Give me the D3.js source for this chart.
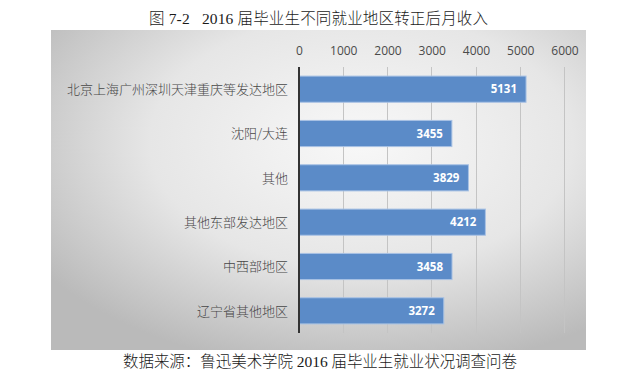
<!DOCTYPE html>
<html><head><meta charset="utf-8">
<script src="https://cdn.jsdelivr.net/npm/d3@7"></script>
<style>body{margin:0;background:#fff}svg{display:block}</style>
</head><body>
<svg id="c" width="621" height="374"></svg>
<script>
const categories = ["北京上海广州深圳天津重庆等发达地区","沈阳/大连","其他","其他东部发达地区","中西部地区","辽宁省其他地区"];
const values = [5131, 3455, 3829, 4212, 3458, 3272];
const ticks = [0,1000,2000,3000,4000,5000,6000];
const titleText = "图 7-2\u00a0\u00a0\u00a02016 届毕业生不同就业地区转正后月收入";
const sourceText = "数据来源：鲁迅美术学院 2016 届毕业生就业状况调查问卷";

const svg = d3.select("#c");
const defs = svg.append("defs");
const rg = defs.append("radialGradient").attr("id","bg")
  .attr("cx","0.58").attr("cy","0.35").attr("r","0.72").attr("fx","0.58").attr("fy","0.35");
rg.append("stop").attr("offset","0").attr("stop-color","#f8f8f8");
rg.append("stop").attr("offset","0.55").attr("stop-color","#e6e6e6");
rg.append("stop").attr("offset","1").attr("stop-color","#bababa");

svg.append("rect").attr("x",51).attr("y",30).attr("width",535).attr("height",320).attr("fill","url(#bg)");

const x = d3.scaleLinear().domain([0,6000]).range([299,564.5]);
const y = d3.scaleBand().domain(categories).range([67,333]).paddingInner(0.41).paddingOuter(0.205);

// gridlines
svg.append("g").selectAll("line").data(ticks.slice(1)).join("line")
  .attr("x1",d=>x(d)).attr("x2",d=>x(d)).attr("y1",67).attr("y2",333)
  .attr("stroke","#c4c4c4").attr("stroke-width",1).attr("shape-rendering","crispEdges");

// top axis labels
const ax = svg.append("g").attr("transform","translate(0,55)")
  .call(d3.axisTop(x).tickValues(ticks).tickSize(0).tickPadding(0).tickFormat(d3.format("d")));
ax.select(".domain").remove();
ax.selectAll("text").attr("fill","#4a4a4a").attr("font-size","12px")
  .attr("font-family","'Open Sans','Noto Sans',sans-serif");

// bars
svg.append("g").selectAll("rect").data(values).join("rect")
  .attr("x",x(0)).attr("y",(d,i)=>y(categories[i]))
  .attr("width",d=>x(d)-x(0)).attr("height",y.bandwidth())
  .attr("fill","#5b8bc8").attr("stroke","#a9c2e4").attr("stroke-width",1);

// value labels
svg.append("g").selectAll("text").data(values).join("text")
  .attr("x",d=>x(d)-9).attr("y",(d,i)=>y(categories[i])+y.bandwidth()/2)
  .attr("dy","0.36em").attr("text-anchor","end").attr("fill","#fff")
  .attr("font-size","11.5px").attr("font-weight","bold")
  .attr("font-family","'Open Sans','Noto Sans',sans-serif").text(d=>d);

// category labels
svg.append("g").selectAll("text").data(categories).join("text")
  .attr("x",288).attr("y",d=>y(d)+y.bandwidth()/2).attr("dy","0.36em")
  .attr("text-anchor","end").attr("fill","#474747").attr("font-size","13px")
  .attr("font-weight","300")
  .attr("font-family","'Noto Sans CJK SC',sans-serif").text(d=>d);

// zero axis
svg.append("line").attr("x1",x(0)).attr("x2",x(0)).attr("y1",67).attr("y2",333)
  .attr("stroke","#333").attr("stroke-width",2);

// title & source
svg.append("text").attr("x",149).attr("y",24).attr("fill","#1a1a1a")
  .attr("font-size","15.5px").attr("font-weight","300")
  .attr("font-family","'Liberation Serif','Noto Sans CJK SC',serif")
  .attr("textLength",339).attr("lengthAdjust","spacing").text(titleText);
svg.append("text").attr("x",123).attr("y",367).attr("fill","#1a1a1a")
  .attr("font-size","15.5px").attr("font-weight","300")
  .attr("font-family","'Liberation Serif','Noto Sans CJK SC',serif")
  .attr("textLength",394).attr("lengthAdjust","spacing").text(sourceText);
</script>
</body></html>
